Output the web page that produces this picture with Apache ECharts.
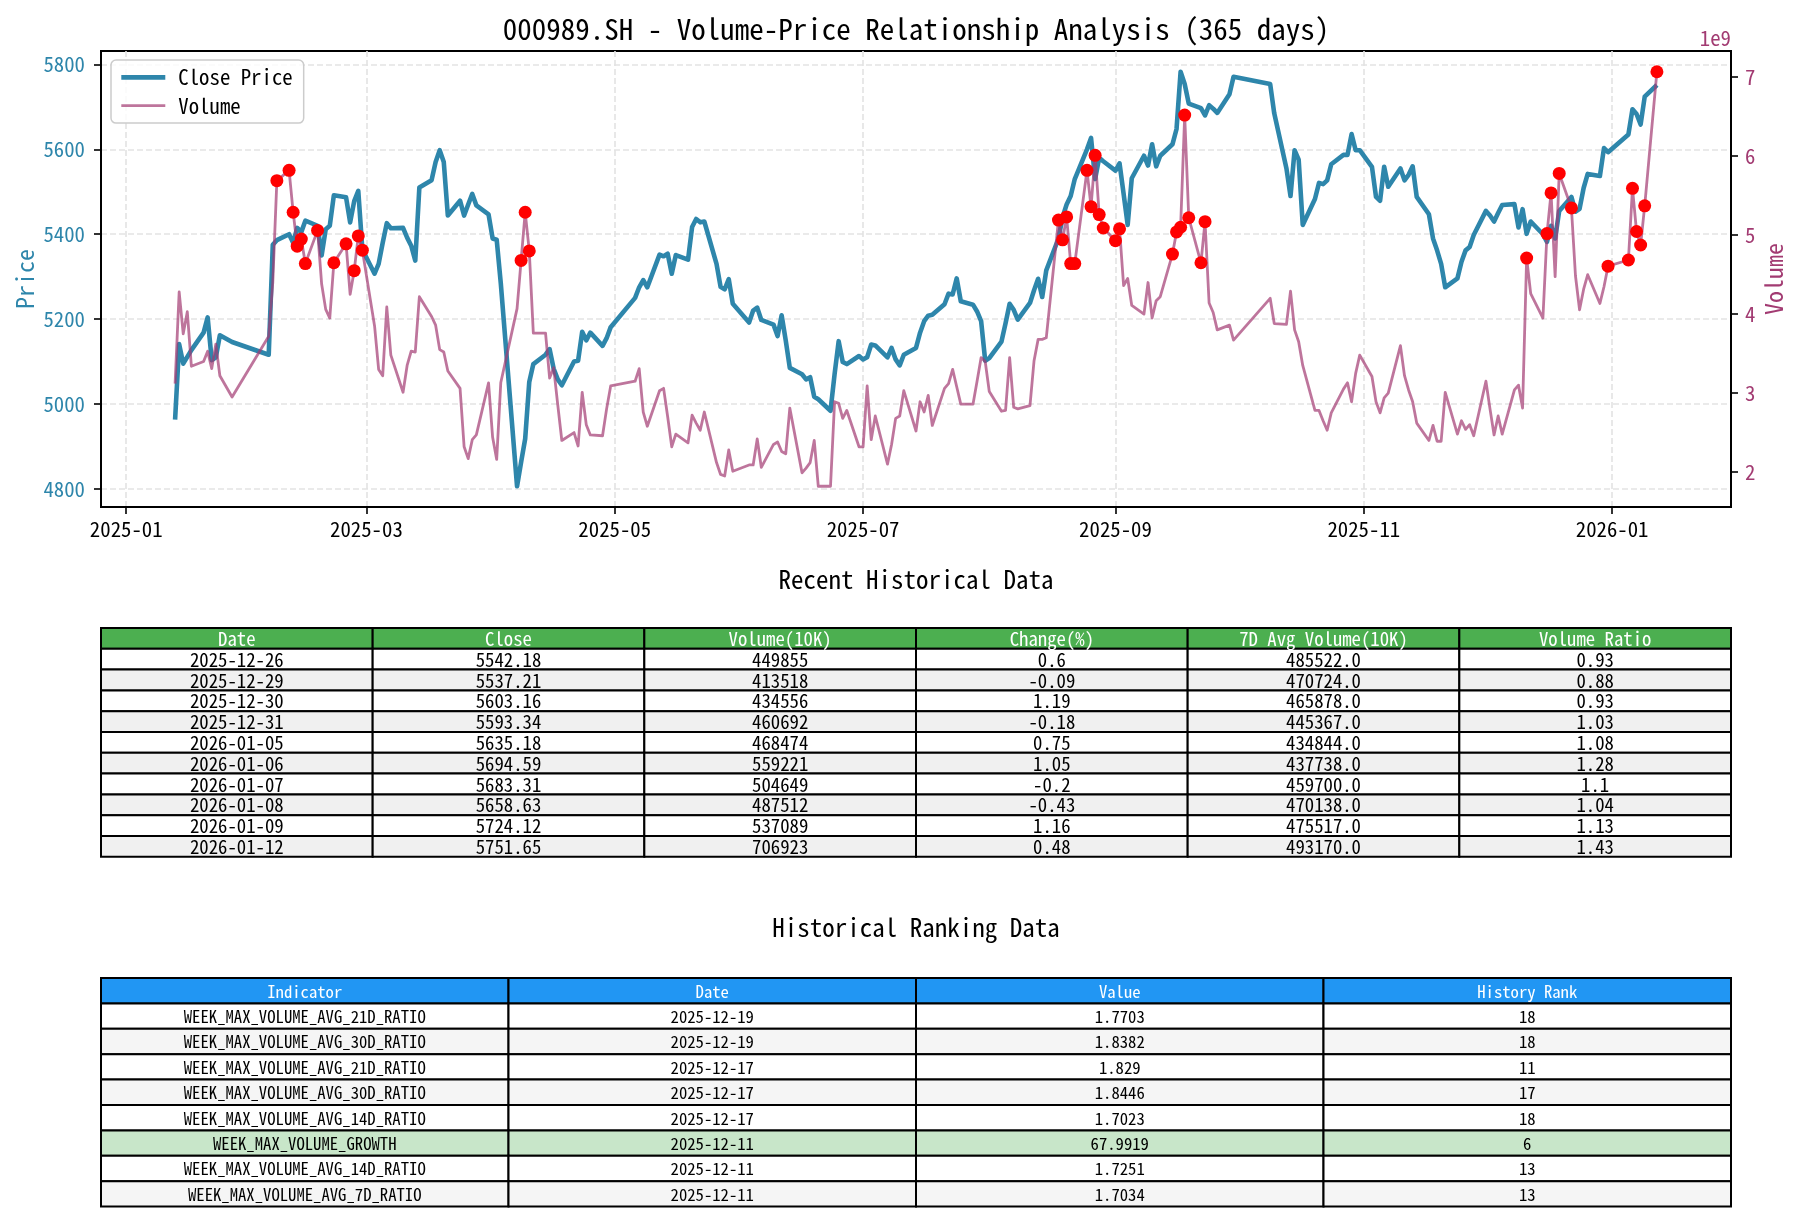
<!DOCTYPE html>
<html>
<head>
<meta charset="utf-8">
<script src="https://cdn.jsdelivr.net/npm/echarts@6/dist/echarts.min.js"></script>
<style>html,body{margin:0;padding:0;background:#fff}#chart{width:1797px;height:1221px}</style>
</head>
<body>
<div id="chart"></div>
<script>
// ---------------- data ----------------
const dates = [
'2025-01-13','2025-01-14','2025-01-15','2025-01-16','2025-01-17','2025-01-20','2025-01-21','2025-01-22','2025-01-23','2025-01-24','2025-01-27',
'2025-02-05','2025-02-06','2025-02-07','2025-02-10','2025-02-11','2025-02-12','2025-02-13','2025-02-14','2025-02-17','2025-02-18','2025-02-19','2025-02-20','2025-02-21','2025-02-24','2025-02-25','2025-02-26','2025-02-27','2025-02-28',
'2025-03-03','2025-03-04','2025-03-05','2025-03-06','2025-03-07','2025-03-10','2025-03-11','2025-03-12','2025-03-13','2025-03-14','2025-03-17','2025-03-18','2025-03-19','2025-03-20','2025-03-21','2025-03-24','2025-03-25','2025-03-26','2025-03-27','2025-03-28','2025-03-31',
'2025-04-01','2025-04-02','2025-04-03','2025-04-07','2025-04-08','2025-04-09','2025-04-10','2025-04-11','2025-04-14','2025-04-15','2025-04-16','2025-04-17','2025-04-18','2025-04-21','2025-04-22','2025-04-23','2025-04-24','2025-04-25','2025-04-28','2025-04-29','2025-04-30',
'2025-05-06','2025-05-07','2025-05-08','2025-05-09','2025-05-12','2025-05-13','2025-05-14','2025-05-15','2025-05-16','2025-05-19','2025-05-20','2025-05-21','2025-05-22','2025-05-23','2025-05-26','2025-05-27','2025-05-28','2025-05-29','2025-05-30',
'2025-06-03','2025-06-04','2025-06-05','2025-06-06','2025-06-09','2025-06-10','2025-06-11','2025-06-12','2025-06-13','2025-06-16','2025-06-17','2025-06-18','2025-06-19','2025-06-20','2025-06-23','2025-06-24','2025-06-25','2025-06-26','2025-06-27','2025-06-30',
'2025-07-01','2025-07-02','2025-07-03','2025-07-04','2025-07-07','2025-07-08','2025-07-09','2025-07-10','2025-07-11','2025-07-14','2025-07-15','2025-07-16','2025-07-17','2025-07-18','2025-07-21','2025-07-22','2025-07-23','2025-07-24','2025-07-25','2025-07-28','2025-07-29','2025-07-30','2025-07-31',
'2025-08-01','2025-08-04','2025-08-05','2025-08-06','2025-08-07','2025-08-08','2025-08-11','2025-08-12','2025-08-13','2025-08-14','2025-08-15','2025-08-18','2025-08-19','2025-08-20','2025-08-21','2025-08-22','2025-08-25','2025-08-26','2025-08-27','2025-08-28','2025-08-29',
'2025-09-01','2025-09-02','2025-09-03','2025-09-04','2025-09-05','2025-09-08','2025-09-09','2025-09-10','2025-09-11','2025-09-12','2025-09-15','2025-09-16','2025-09-17','2025-09-18','2025-09-19','2025-09-22','2025-09-23','2025-09-24','2025-09-25','2025-09-26','2025-09-29','2025-09-30',
'2025-10-09','2025-10-10','2025-10-13','2025-10-14','2025-10-15','2025-10-16','2025-10-17','2025-10-20','2025-10-21','2025-10-22','2025-10-23','2025-10-24','2025-10-27','2025-10-28','2025-10-29','2025-10-30','2025-10-31',
'2025-11-03','2025-11-04','2025-11-05','2025-11-06','2025-11-07','2025-11-10','2025-11-11','2025-11-12','2025-11-13','2025-11-14','2025-11-17','2025-11-18','2025-11-19','2025-11-20','2025-11-21','2025-11-24','2025-11-25','2025-11-26','2025-11-27','2025-11-28',
'2025-12-01','2025-12-02','2025-12-03','2025-12-04','2025-12-05','2025-12-08','2025-12-09','2025-12-10','2025-12-11','2025-12-12','2025-12-15','2025-12-16','2025-12-17','2025-12-18','2025-12-19','2025-12-22','2025-12-23','2025-12-24','2025-12-25','2025-12-26','2025-12-29','2025-12-30','2025-12-31',
'2026-01-05','2026-01-06','2026-01-07','2026-01-08','2026-01-09','2026-01-12'
];

const closePrices = [
4963,5141,5095,5111,5127,5168,5204,5103,5110,5162,5146,
5116,5375,5386,5400,5380,5415,5405,5432,5420,5350,5412,5420,5492,5487,5428,5478,5502,5364,
5307,5330,5380,5426,5414,5415,5392,5373,5338,5510,5527,5570,5598,5570,5444,5479,5444,5470,5495,5468,5447,
5390,5387,5285,4806,4863,4918,5052,5094,5116,5129,5083,5058,5044,5100,5102,5170,5150,5168,5137,5155,5181,
5250,5275,5292,5275,5352,5348,5354,5307,5351,5340,5417,5436,5428,5430,5330,5276,5270,5294,5236,
5192,5220,5227,5198,5187,5160,5209,5150,5085,5070,5058,5063,5017,5011,4984,5070,5148,5099,5094,5113,
5105,5110,5140,5138,5110,5132,5105,5091,5116,5132,5168,5195,5208,5210,5235,5260,5258,5296,5242,5234,5218,5195,5102,
5108,5147,5190,5236,5222,5199,5238,5268,5295,5252,5315,5390,5440,5470,5490,5530,5600,5627,5530,5580,5572,
5550,5567,5495,5422,5532,5585,5562,5612,5560,5585,5612,5648,5783,5754,5708,5697,5680,5704,5696,5686,5730,5771,
5754,5685,5555,5490,5598,5576,5422,5483,5521,5518,5527,5565,5587,5587,5636,5598,5598,
5559,5488,5479,5559,5512,5555,5527,5540,5560,5488,5447,5390,5362,5330,5275,5296,5335,5362,5370,5398,
5455,5444,5430,5450,5469,5471,5416,5459,5401,5430,5400,5382,5420,5390,5455,5488,5453,5460,5509,5542.18,5537.21,5603.16,5593.34,
5635.18,5694.59,5683.31,5658.63,5724.12,5751.65
];

// volume in units of 1e9
const volumesBn = [
3.12,4.28,3.75,4.03,3.34,3.40,3.53,3.31,3.62,3.22,2.95,
3.72,4.40,5.69,5.82,5.29,4.86,4.95,4.64,5.06,4.38,4.06,3.95,4.65,4.89,4.25,4.55,4.99,4.81,
3.85,3.30,3.22,4.09,3.48,3.01,3.35,3.53,3.52,4.22,3.97,3.86,3.55,3.52,3.28,3.06,2.32,2.17,2.41,2.47,3.13,
2.44,2.16,3.13,4.07,4.68,5.29,4.80,3.76,3.76,3.19,3.32,2.85,2.40,2.50,2.33,3.01,2.60,2.47,2.46,2.80,3.09,
3.15,3.31,2.76,2.58,3.03,3.06,2.70,2.32,2.48,2.37,2.72,2.62,2.53,2.76,2.12,1.97,1.95,2.28,2.01,
2.09,2.09,2.42,2.06,2.35,2.38,2.26,2.23,2.81,1.99,2.05,2.12,2.40,1.82,1.82,2.89,2.87,2.68,2.78,2.32,
2.32,3.09,2.41,2.71,2.10,2.35,2.68,2.71,3.03,2.52,2.89,2.76,2.97,2.59,3.06,3.12,3.30,3.08,2.86,2.86,3.15,3.45,3.40,
3.02,2.77,2.78,3.45,2.82,2.80,2.84,3.41,3.68,3.68,3.70,5.19,4.94,5.23,4.64,4.64,5.82,5.36,6.01,5.26,5.09,
4.93,5.08,4.36,4.45,4.11,4.00,4.40,3.95,4.17,4.22,4.76,5.04,5.10,6.52,5.22,4.65,5.17,4.14,4.02,3.80,3.86,3.67,
4.20,3.88,3.87,4.29,3.80,3.65,3.35,2.78,2.78,2.65,2.53,2.75,3.05,3.13,2.89,3.25,3.48,
3.21,2.89,2.75,2.94,3.00,3.60,3.22,3.04,2.89,2.62,2.40,2.59,2.39,2.39,3.01,2.48,2.65,2.54,2.60,2.46,
3.15,2.80,2.47,2.71,2.48,3.04,3.10,2.81,4.71,4.26,3.95,5.02,5.534,4.474,5.781,5.344,4.482,4.055,4.316,4.499,4.135,4.346,4.607,
4.685,5.592,5.046,4.875,5.371,7.069
];

const highVolumeDates = [
'2025-02-07','2025-02-10','2025-02-11','2025-02-12','2025-02-13','2025-02-14','2025-02-17','2025-02-21','2025-02-24','2025-02-26','2025-02-27','2025-02-28',
'2025-04-08','2025-04-09','2025-04-10',
'2025-08-18','2025-08-19','2025-08-20','2025-08-21','2025-08-22','2025-08-25','2025-08-26','2025-08-27','2025-08-28','2025-08-29',
'2025-09-01','2025-09-02','2025-09-15','2025-09-16','2025-09-17','2025-09-18','2025-09-19','2025-09-22','2025-09-23',
'2025-12-11','2025-12-16','2025-12-17','2025-12-19','2025-12-22','2025-12-31',
'2026-01-05','2026-01-06','2026-01-07','2026-01-08','2026-01-09','2026-01-12'
];

const monthTicks = ['2025-01-01','2025-03-01','2025-05-01','2025-07-01','2025-09-01','2025-11-01','2026-01-01'];
const priceTicks = [4800,5000,5200,5400,5600,5800];
const volumeTicks = [2,3,4,5,6,7];

// recent history table
const recentHeaders = ['Date','Close','Volume(10K)','Change(%)','7D Avg Volume(10K)','Volume Ratio'];
const recentDates = ['2025-12-26','2025-12-29','2025-12-30','2025-12-31','2026-01-05','2026-01-06','2026-01-07','2026-01-08','2026-01-09','2026-01-12'];
const recentClose = [5542.18,5537.21,5603.16,5593.34,5635.18,5694.59,5683.31,5658.63,5724.12,5751.65];
const recentVolume = [449855,413518,434556,460692,468474,559221,504649,487512,537089,706923];
const recentChange = [0.6,-0.09,1.19,-0.18,0.75,1.05,-0.2,-0.43,1.16,0.48];
const recentAvg7 = [485522,470724,465878,445367,434844,437738,459700,470138,475517,493170];
const recentRatio = [0.93,0.88,0.93,1.03,1.08,1.28,1.1,1.04,1.13,1.43];

// ranking table
const rankHeaders = ['Indicator','Date','Value','History Rank'];
const rankIndicators = ['WEEK_MAX_VOLUME_AVG_21D_RATIO','WEEK_MAX_VOLUME_AVG_30D_RATIO','WEEK_MAX_VOLUME_AVG_21D_RATIO','WEEK_MAX_VOLUME_AVG_30D_RATIO','WEEK_MAX_VOLUME_AVG_14D_RATIO','WEEK_MAX_VOLUME_GROWTH','WEEK_MAX_VOLUME_AVG_14D_RATIO','WEEK_MAX_VOLUME_AVG_7D_RATIO'];
const rankDates = ['2025-12-19','2025-12-19','2025-12-17','2025-12-17','2025-12-17','2025-12-11','2025-12-11','2025-12-11'];
const rankValues = [1.7703,1.8382,1.829,1.8446,1.7023,67.9919,1.7251,1.7034];
const rankRanks = [18,18,11,17,18,6,13,13];

// ---------------- layout / style ----------------
const FONT = "'Noto Sans Mono CJK SC', 'Noto Sans Mono CJK JP', 'DejaVu Sans Mono', monospace";
const PRICE_COLOR = '#2E86AB';
const VOL_COLOR = '#A23B72';
const PLOT = {left: 101, top: 51, width: 1630, height: 456};
const PRICE_LW = 4.6, VOL_LW = 2.8;

function toTime(s) { const p = s.split('-').map(Number); return Date.UTC(p[0], p[1] - 1, p[2]); }
function pad(lo, hi) { const r = hi - lo; return [lo - 0.05 * r, hi + 0.05 * r]; }

const times = dates.map(toTime);
const xr = pad(times[0], times[times.length - 1]);
const pr = pad(Math.min(...closePrices), Math.max(...closePrices));
const vr = pad(Math.min(...volumesBn), Math.max(...volumesBn));

const priceData = times.map((t, i) => [t, closePrices[i]]);
const volumeData = times.map((t, i) => [t, volumesBn[i]]);
const highSet = new Set(highVolumeDates);
const highData = dates.map((d, i) => highSet.has(d) ? [times[i], volumesBn[i]] : null).filter(Boolean);
const monthTickTimes = monthTicks.map(toTime);

function fmtMonth(v) { const d = new Date(v); return d.getUTCFullYear() + '-' + String(d.getUTCMonth() + 1).padStart(2, '0'); }
function fmtPlain(v) { return String(Math.round(v)); }

// ---------------- graphic (titles + tables) ----------------
const graphics = [];
function addText(x, y, text, size, color) {
  graphics.push({type: 'text', x: x, y: y, silent: true, z: 100,
    style: {text: text, fill: color || '#000', font: size + 'px ' + FONT,
      textAlign: 'center', textVerticalAlign: 'middle', align: 'center', verticalAlign: 'middle'}});
}
function addTable(top, rowH, headers, rows, headerColor, rowColors, fontSize) {
  const n = headers.length, colW = PLOT.width / n;
  const all = [headers].concat(rows);
  all.forEach((r, ri) => {
    const y = top + ri * rowH;
    r.forEach((cell, ci) => {
      const x = PLOT.left + ci * colW;
      graphics.push({type: 'rect', silent: true, z: 90,
        shape: {x: x, y: y, width: colW, height: rowH},
        style: {fill: ri === 0 ? headerColor : rowColors[ri - 1], stroke: '#000', lineWidth: 2}});
      addText(x + colW / 2, y + rowH / 2 + 0.5, cell, fontSize, ri === 0 ? '#fff' : '#000');
    });
  });
}

addText(916, 29, '000989.SH - Volume-Price Relationship Analysis (365 days)', 29);
addText(916, 579, 'Recent Historical Data', 25);
addText(916, 927, 'Historical Ranking Data', 25);
graphics.push({type: 'text', x: 1731, y: 38, silent: true, z: 100,
  style: {text: '1e9', fill: VOL_COLOR, font: '20.8px ' + FONT, textAlign: 'right', textVerticalAlign: 'middle', align: 'right', verticalAlign: 'middle'}});

const recentRows = recentDates.map((d, i) => [d, recentClose[i].toFixed(2), String(recentVolume[i]), String(recentChange[i]), recentAvg7[i].toFixed(1), String(recentRatio[i])]);
addTable(628, 20.8, recentHeaders, recentRows, '#4CAF50', recentRows.map((r, i) => i % 2 ? '#f0f0f0' : '#ffffff'), 18.75);

const rankRows = rankIndicators.map((s, i) => [s, rankDates[i], String(rankValues[i]), String(rankRanks[i])]);
addTable(978, 25.4, rankHeaders, rankRows, '#2196F3', rankRows.map((r, i) => rankRanks[i] <= 10 ? '#C8E6C9' : (i % 2 ? '#f5f5f5' : '#ffffff')), 16.7);

// ---------------- chart ----------------
const chart = echarts.init(document.getElementById('chart'), null, {renderer: 'canvas', width: 1797, height: 1221});
const dashed = {color: '#e3e3e3', width: 1.6, type: [6, 3]};
const tickStyle = {color: '#000', width: 1.6};

chart.setOption({
  animation: false,
  backgroundColor: '#ffffff',
  textStyle: {fontFamily: FONT},
  grid: {left: PLOT.left, top: PLOT.top, width: PLOT.width, height: PLOT.height, containLabel: false, outerBoundsMode: 'none',
    show: true, borderColor: '#000', borderWidth: 2, backgroundColor: 'transparent'},
  legend: {
    show: true, orient: 'vertical', left: 111, top: 60,
    data: [
      {name: 'Close Price', lineStyle: {width: PRICE_LW, color: PRICE_COLOR, opacity: 1}},
      {name: 'Volume', lineStyle: {width: VOL_LW, color: VOL_COLOR, opacity: 0.7}}
    ],
    itemWidth: 44, itemHeight: 14, itemGap: 7.5,
    padding: [7, 11, 7, 8],
    itemStyle: {opacity: 0},
    backgroundColor: 'rgba(255,255,255,0.8)', borderColor: '#cccccc', borderWidth: 1.5, borderRadius: 5,
    textStyle: {fontFamily: FONT, fontSize: 20.8, color: '#000', padding: [0, 0, 0, 8]},
    selectedMode: false
  },
  xAxis: {
    type: 'value', min: xr[0], max: xr[1],
    axisLine: {show: true, onZero: false, lineStyle: {color: '#000', width: 2}},
    axisTick: {show: true, customValues: monthTickTimes, length: 7, lineStyle: tickStyle},
    axisLabel: {show: true, customValues: monthTickTimes, formatter: fmtMonth, fontSize: 20.8, color: '#000', fontFamily: FONT, margin: 12},
    splitLine: {show: true, lineStyle: dashed}
  },
  yAxis: [
    {
      type: 'value', position: 'left', min: pr[0], max: pr[1],
      axisLine: {show: true, lineStyle: {color: '#000', width: 2}},
      axisTick: {show: true, customValues: priceTicks, length: 7, lineStyle: tickStyle},
      axisLabel: {show: true, customValues: priceTicks, formatter: fmtPlain, color: PRICE_COLOR, fontSize: 20.8, fontFamily: FONT, margin: 16},
      splitLine: {show: true, lineStyle: dashed},
      name: 'Price', nameLocation: 'middle', nameGap: 64, nameRotate: 90, nameMoveOverlap: false,
      nameTextStyle: {color: PRICE_COLOR, fontSize: 24, fontFamily: FONT}
    },
    {
      type: 'value', position: 'right', min: vr[0], max: vr[1],
      axisLine: {show: true, lineStyle: {color: '#000', width: 2}},
      axisTick: {show: true, customValues: volumeTicks, length: 7, lineStyle: tickStyle},
      axisLabel: {show: true, customValues: volumeTicks, formatter: fmtPlain, color: VOL_COLOR, fontSize: 20.8, fontFamily: FONT, margin: 14},
      splitLine: {show: false},
      name: 'Volume', nameLocation: 'middle', nameGap: 31, nameRotate: 90, nameMoveOverlap: false,
      nameTextStyle: {color: VOL_COLOR, fontSize: 24, fontFamily: FONT}
    }
  ],
  series: [
    {
      name: 'Close Price', type: 'line', yAxisIndex: 0, data: priceData,
      symbol: 'none', showSymbol: false, z: 2,
      lineStyle: {color: PRICE_COLOR, width: PRICE_LW, join: 'round'},
      itemStyle: {color: PRICE_COLOR}
    },
    {
      name: 'Volume', type: 'line', yAxisIndex: 1, data: volumeData,
      symbol: 'none', showSymbol: false, z: 3,
      lineStyle: {color: VOL_COLOR, width: VOL_LW, opacity: 0.7, join: 'round'},
      itemStyle: {color: VOL_COLOR, opacity: 0.7}
    },
    {
      name: 'High Volume', type: 'scatter', yAxisIndex: 1, data: highData,
      symbol: 'circle', symbolSize: 13, z: 4,
      itemStyle: {color: '#ff0000', opacity: 1}
    }
  ],
  graphic: {elements: graphics}
});
</script>
</body>
</html>
